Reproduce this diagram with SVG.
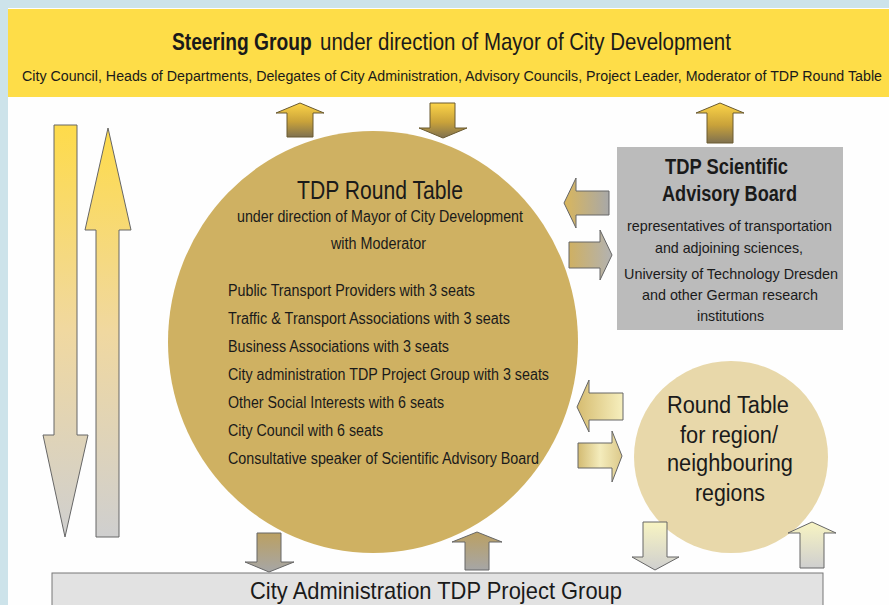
<svg xmlns="http://www.w3.org/2000/svg" width="889" height="605" viewBox="0 0 889 605">
<defs>
<linearGradient id="gLong" x1="0" y1="0" x2="0" y2="1"><stop offset="0" stop-color="#fedb4a"/><stop offset="0.5" stop-color="#f0d8a0"/><stop offset="1" stop-color="#cfcfcf"/></linearGradient>
<linearGradient id="gGold" x1="0" y1="0" x2="0" y2="1"><stop offset="0" stop-color="#fcd448"/><stop offset="0.55" stop-color="#c9a23a"/><stop offset="1" stop-color="#7f7150"/></linearGradient>
<linearGradient id="gSideL" x1="0" y1="0" x2="1" y2="0"><stop offset="0" stop-color="#d9b65c"/><stop offset="1" stop-color="#a8a8a8"/></linearGradient>
<linearGradient id="gSideR" x1="0" y1="0" x2="1" y2="0"><stop offset="0" stop-color="#cfb062"/><stop offset="1" stop-color="#b2b2b2"/></linearGradient>
<linearGradient id="gPaleL" x1="0" y1="0" x2="1" y2="0"><stop offset="0" stop-color="#d6bc70"/><stop offset="1" stop-color="#f6efbe"/></linearGradient>
<linearGradient id="gPaleR" x1="0" y1="0" x2="1" y2="0"><stop offset="0" stop-color="#d3bb72"/><stop offset="0.5" stop-color="#f4ecbc"/><stop offset="1" stop-color="#dcc98a"/></linearGradient>
<linearGradient id="gBrown" x1="0" y1="0" x2="0" y2="1"><stop offset="0" stop-color="#bba062"/><stop offset="1" stop-color="#a6a6a6"/></linearGradient>
<linearGradient id="gPaleV" x1="0" y1="0" x2="0" y2="1"><stop offset="0" stop-color="#f8f4c2"/><stop offset="1" stop-color="#cfcfcf"/></linearGradient>
</defs>
<style>
text{font-family:"Liberation Sans",Arial,sans-serif;fill:#1a1a1a}
.arr{stroke:#666;stroke-width:1;stroke-linejoin:miter}
.gold{stroke:#6a5a30}
.b{font-weight:bold}
.l{font-size:16px}
.s{font-size:15px}
</style>
<rect x="0" y="0" width="889" height="605" fill="#cde3ea"/>
<rect x="8" y="8" width="881" height="597" fill="#fefefe"/>

<g id="steering-group">
<rect x="8" y="9" width="881" height="88" fill="#fedd48"/>
<text transform="translate(172,50) scale(0.8,1)" font-size="24" class="b">Steering Group</text>
<text transform="translate(320,50) scale(0.854,1)" font-size="24">under direction of Mayor of City Development</text>
<text transform="translate(22,81) scale(1,1.12)" font-size="13" textLength="860" lengthAdjust="spacingAndGlyphs">City Council, Heads of Departments, Delegates of City Administration, Advisory Councils, Project Leader, Moderator of TDP Round Table</text>
</g>

<g id="tdp-round-table">
<ellipse cx="373" cy="342" rx="205" ry="211" fill="#cfb162"/>
<text x="297" y="199" font-size="26" textLength="166" lengthAdjust="spacingAndGlyphs">TDP Round Table</text>
<text x="237" y="222" class="l" textLength="286" lengthAdjust="spacingAndGlyphs">under direction of Mayor of City Development</text>
<text x="331" y="249" class="l" textLength="95" lengthAdjust="spacingAndGlyphs">with Moderator</text>
<text x="228" y="296" class="l" textLength="247" lengthAdjust="spacingAndGlyphs">Public Transport Providers with 3 seats</text>
<text x="228" y="324" class="l" textLength="282" lengthAdjust="spacingAndGlyphs">Traffic &amp; Transport Associations with 3 seats</text>
<text x="228" y="352" class="l" textLength="221" lengthAdjust="spacingAndGlyphs">Business Associations with 3 seats</text>
<text x="228" y="380" class="l" textLength="321" lengthAdjust="spacingAndGlyphs">City administration TDP Project Group with 3 seats</text>
<text x="228" y="408" class="l" textLength="216" lengthAdjust="spacingAndGlyphs">Other Social Interests with 6 seats</text>
<text x="228" y="436" class="l" textLength="155" lengthAdjust="spacingAndGlyphs">City Council with 6 seats</text>
<text x="228" y="464" class="l" textLength="311" lengthAdjust="spacingAndGlyphs">Consultative speaker of Scientific Advisory Board</text>
</g>

<g id="scientific-advisory-board">
<rect x="617" y="147" width="226" height="183" fill="#bbbbbb"/>
<text x="665" y="174" font-size="22" class="b" textLength="123" lengthAdjust="spacingAndGlyphs">TDP Scientific</text>
<text x="662" y="201" font-size="22" class="b" textLength="135" lengthAdjust="spacingAndGlyphs">Advisory Board</text>
<text x="627" y="231" class="s" textLength="205" lengthAdjust="spacingAndGlyphs">representatives of transportation</text>
<text x="655" y="253" class="s" textLength="148" lengthAdjust="spacingAndGlyphs">and adjoining sciences,</text>
<text x="624" y="279" class="s" textLength="214" lengthAdjust="spacingAndGlyphs">University of Technology Dresden</text>
<text x="642" y="300" class="s" textLength="176" lengthAdjust="spacingAndGlyphs">and other German research</text>
<text x="697" y="321" class="s" textLength="67" lengthAdjust="spacingAndGlyphs">institutions</text>
</g>

<g id="regional-round-table">
<ellipse cx="731" cy="457" rx="97" ry="96" fill="#e8d8aa"/>
<text x="667" y="413" font-size="23" textLength="122" lengthAdjust="spacingAndGlyphs">Round Table</text>
<text x="680" y="443" font-size="23" textLength="98" lengthAdjust="spacingAndGlyphs">for region/</text>
<text x="667" y="471" font-size="23" textLength="126" lengthAdjust="spacingAndGlyphs">neighbouring</text>
<text x="695" y="501" font-size="23" textLength="70" lengthAdjust="spacingAndGlyphs">regions</text>
</g>

<g id="project-group">
<rect x="52" y="573" width="771" height="40" fill="#e2e2e2" stroke="#777" stroke-width="1"/>
<text x="250" y="599" font-size="24" textLength="372" lengthAdjust="spacingAndGlyphs">City Administration TDP Project Group</text>
</g>

<g id="connectors">
<polygon class="arr" fill="url(#gLong)" points="54,125 77,125 77,435 88,435 65,537 43,435 54,435"/>
<polygon class="arr" fill="url(#gLong)" points="108,128 131,230 119,230 119,537 96,537 96,230 85,230"/>
<polygon class="arr gold" fill="url(#gGold)" points="300,103 324,113 313,113 313,137 287,137 287,113 276,113"/>
<polygon class="arr gold" fill="url(#gGold)" points="430,103 455,103 455,128 467,128 443,138 419,128 430,128"/>
<polygon class="arr gold" fill="url(#gGold)" points="720,103 744,113 733,113 733,143 707,143 707,113 696,113"/>
<polygon class="arr" fill="url(#gSideL)" points="564,203 576,178 576,191 609,191 609,215 576,215 576,228"/>
<polygon class="arr" fill="url(#gSideR)" points="569,242 600,242 600,230 612,255 600,280 600,268 569,268"/>
<polygon class="arr" fill="url(#gPaleL)" points="577,407 589,380 589,393 623,393 623,420 589,420 589,432"/>
<polygon class="arr" fill="url(#gPaleR)" points="578,443 612,443 612,431 622,456 612,482 612,468 578,468"/>
<polygon class="arr" fill="url(#gBrown)" points="257,533 281,533 281,562 294,562 269,572 245,562 257,562"/>
<polygon class="arr" fill="url(#gBrown)" points="477,532 502,542 489,542 489,570 465,570 465,542 452,542"/>
<polygon class="arr" fill="url(#gPaleV)" points="643,522 667,522 667,557 679,557 655,570 632,557 643,557"/>
<polygon class="arr" fill="url(#gPaleV)" points="812,522 836,533 824,533 824,568 800,568 800,533 788,533"/>
</g>
</svg>
